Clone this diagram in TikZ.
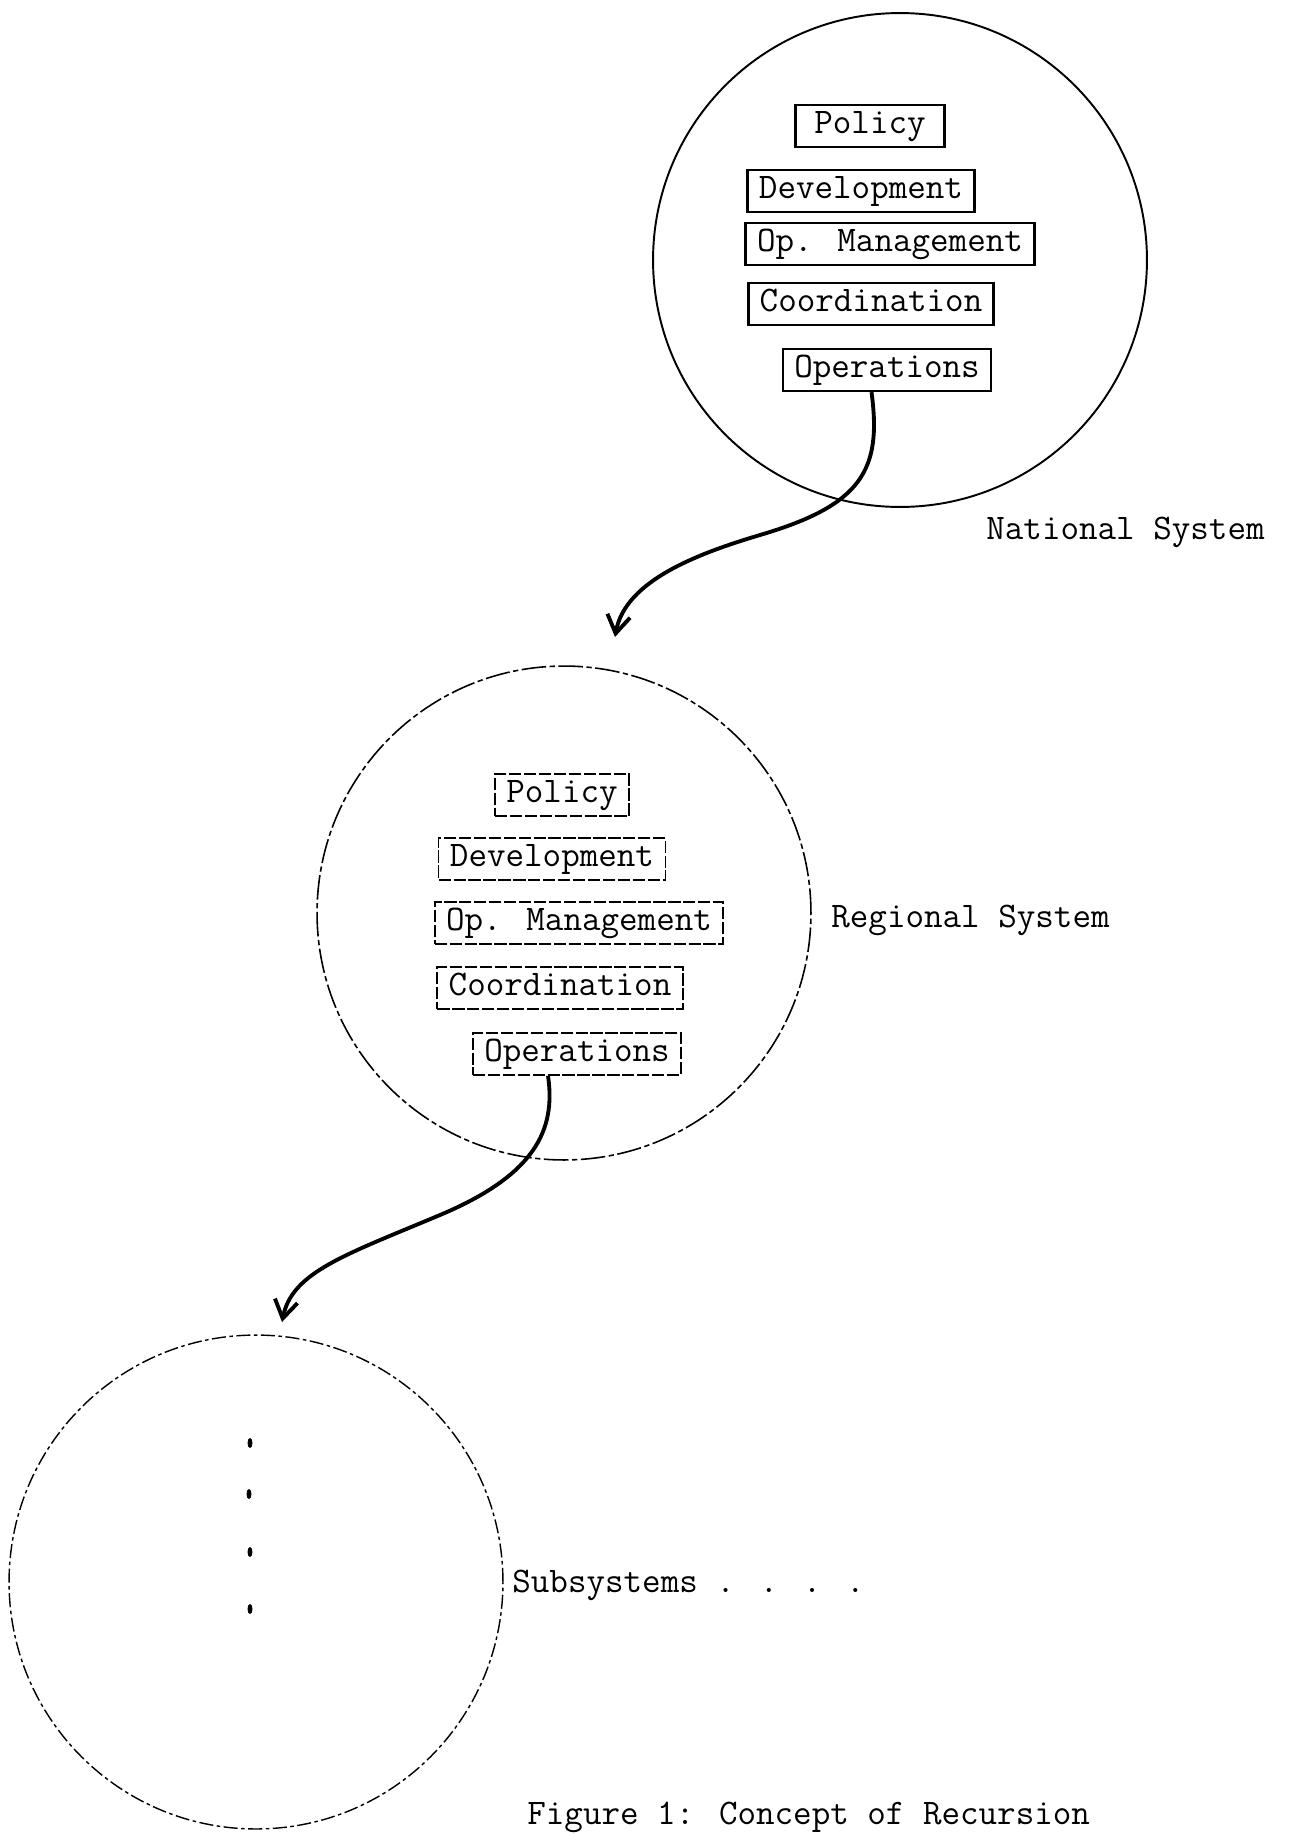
\documentclass[tikz,border=0pt]{standalone}
\usepackage{fontspec}
\usetikzlibrary{arrows.meta}

\tikzstyle{box} = [rectangle, inner xsep=6.5pt, inner ysep=3.3pt, text height=12.7pt, text depth=4.5pt, draw=black, line width=1.4pt]
\tikzstyle{faintbox} = [box, line width=1pt, dash pattern=on 7pt off 1.5pt]
\tikzstyle{system} = [circle, draw=black, minimum size=9.88cm, inner sep=0pt]
\tikzstyle{systemname} = [anchor=base west, inner sep=0pt]
\tikzstyle{arrow} = [line width=2.2pt,->,>={Straight Barb[length=0.36cm,width=0.46cm]}]

\begin{document}
\begin{tikzpicture}[x=0.02cm, y=-0.02cm, font=\fontsize{20.5pt}{24pt}\selectfont\ttfamily]
  \useasboundingbox (0,0) rectangle (1296,1835);

  % national level
  \node (National) [system, line width=1.1pt] at (900,260) {};
  \node (National Policy) [box, minimum width=2.98cm] at (870,126) {Policy};
  \node (National Development) [box] at (861,191) {Development};
  \node (National Op Management) [box] at (890,244) {Op. Management};
  \node (National Coordination) [box] at (871,304) {Coordination};
  \node (National Operations) [box] at (887,370) {Operations};
  \node (National Name) [systemname] at (986,539) {National System};

  % regional level
  \node (Regional) [system, line width=0.9pt, dash pattern=on 14pt off 2pt on 3pt off 2pt] at (564,913) {};
  \node (Regional Policy) [faintbox] at (562,795) {Policy};
  \node (Regional Development) [faintbox] at (552,859) {Development};
  \node (Regional Op Management) [faintbox] at (579,923) {Op. Management};
  \node (Regional Coordination) [faintbox] at (560,988) {Coordination};
  \node (Regional Operations) [faintbox] at (577,1054) {Operations};
  \node (Regional Name) [systemname] at (831,927) {Regional System};

  % subsystems
  \node (Subsystem) [system, line width=0.8pt, dash pattern=on 8pt off 2pt on 2pt off 2pt] at (256,1582) {};
  \node (Subsystem Name) [systemname] at (512,1592) {Subsystems . . . .};
  \fill (250,1443) ellipse (2.5 and 5);
  \fill (249,1494) ellipse (2.5 and 5);
  \fill (250,1552) ellipse (2.5 and 5);
  \fill (250,1609) ellipse (2.5 and 5);

  \node (Caption) [systemname] at (527,1824) {Figure 1: Concept of Recursion};

  \coordinate (Regional Entry) at (615,637);
  \coordinate (Subsystem Entry) at (282,1322);

  \draw [arrow] ([xshift=-0.31cm]National Operations.south) .. controls (882,470) and (862,505) .. (760,535)
    .. controls (700,553) and (625,580) .. (Regional Entry);
  \draw [arrow] ([xshift=-0.58cm]Regional Operations.south) .. controls (556,1130) and (535,1175) .. (440,1215)
    .. controls (345,1255) and (292,1272) .. (Subsystem Entry);
\end{tikzpicture}
\end{document}
